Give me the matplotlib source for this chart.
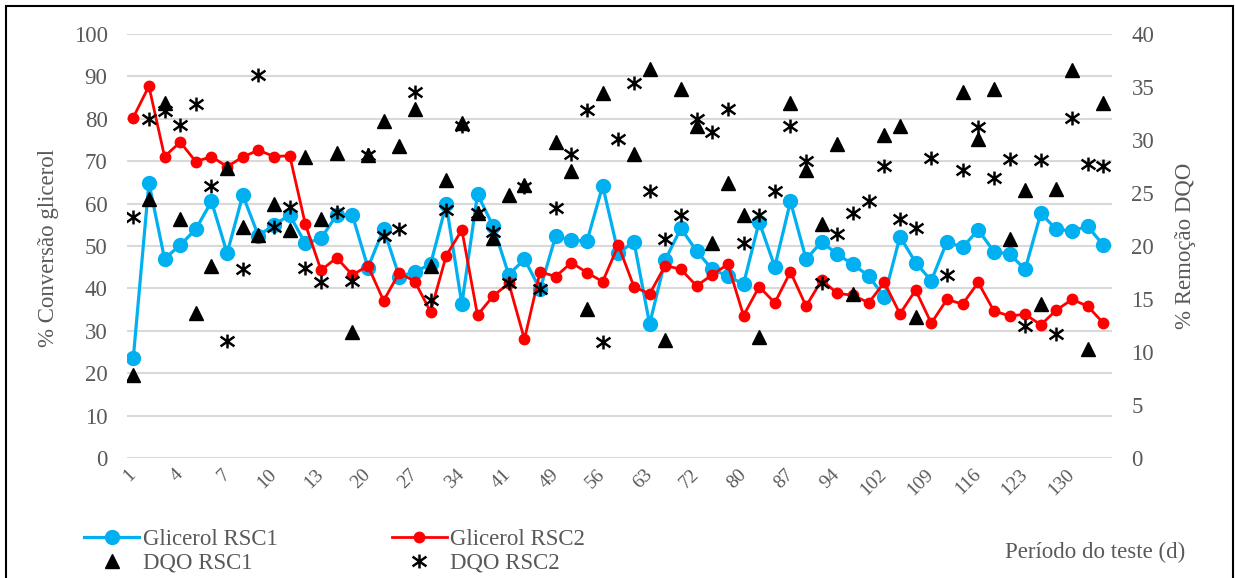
import numpy as np
import matplotlib
matplotlib.use("Agg")
import matplotlib.pyplot as plt
from matplotlib.path import Path
from matplotlib.patches import Rectangle

nan = np.nan

# Test period (days), one entry per sampling point
days = [1, 2, 3, 4, 5, 6, 7, 8, 9, 10, 11, 12, 13, 15, 18, 20, 22, 25, 27, 29, 32,
        34, 36, 39, 41, 43, 46, 49, 51, 53, 56, 58, 60, 63, 66, 69, 72, 74, 77, 80,
        82, 84, 87, 89, 92, 94, 97, 99, 102, 104, 106, 109, 111, 113, 116, 118, 120,
        123, 125, 127, 130, 132, 134]

# Glycerol conversion (%), left axis
glicerol_rsc1 = [23.5, 64.9, 47.0, 50.2, 54.0, 60.5, 48.3, 62.0, 52.4, 55.0, 57.3, 50.6, 51.8,
                 57.3, 57.3, 44.9, 54.0, 42.8, 43.9, 45.7, 59.8, 36.3, 62.2, 54.7, 43.2,
                 46.9, 39.8, 52.4, 51.3, 51.2, 64.2, 48.3, 51.0, 31.6, 46.7, 54.2, 48.8, 44.5,
                 42.9, 41.0, 55.7, 45.1, 60.5, 46.9, 51.0, 48.0, 45.7, 42.9, 38.0, 52.2,
                 46.1, 41.8, 51.0, 49.7, 53.8, 48.7, 48.1, 44.5, 57.7, 53.9, 53.6, 54.6, 50.2]
glicerol_rsc2 = [80.3, 87.7, 71.1, 74.5, 69.9, 71.1, 68.7, 71.0, 72.6, 71.1, 71.3, 55.1, 44.3,
                 47.2, 43.2, 45.3, 37.1, 43.7, 41.6, 34.5, 47.7, 53.8, 33.7, 38.2, 41.2,
                 28.0, 43.9, 42.8, 46.1, 43.7, 41.6, 50.2, 40.4, 38.7, 45.4, 44.5, 40.6, 43.2,
                 45.7, 33.6, 40.4, 36.6, 43.9, 35.8, 42.0, 38.8, 38.4, 36.6, 41.4, 34.0,
                 39.6, 31.8, 37.4, 36.3, 41.4, 34.7, 33.5, 33.9, 31.4, 34.9, 37.4, 35.8, 31.8]

# COD removal (%), right axis
dqo_rsc1 = [7.8, 24.4, 33.5, 22.5, 13.7, 18.1, 27.4, 21.8, 21.0, 24.0, 21.5, 28.4, 22.5,
            28.8, 11.9, 28.6, 31.8, 29.4, 32.9, 18.1, 26.2, 31.6, 23.1, 20.8, 24.8,
            25.8, nan, 29.8, 27.1, 14.1, 34.4, nan, 28.7, 36.7, 11.1, 34.8, 31.3, 20.3,
            25.9, 22.9, 11.4, nan, 33.5, 27.2, 22.1, 29.6, 15.5, nan, 30.5, 31.3,
            13.3, nan, nan, 34.5, 30.1, 34.8, 20.7, 25.3, 14.5, 25.4, 36.6, 10.3, 33.5]
dqo_rsc2 = [22.7, 32.0, 32.7, 31.4, 33.4, 25.7, 11.0, 17.8, 36.1, 21.8, 23.7, 17.9, 16.6,
            23.2, 16.7, 28.6, 20.9, 21.6, 34.5, 14.9, 23.4, 31.3, 23.1, 21.3, 16.5,
            25.6, 15.9, 23.6, 28.7, 32.8, 10.9, 30.1, 35.4, 25.2, 20.7, 22.9, 32.0, 30.8,
            32.9, 20.3, 22.9, 25.2, 31.3, 28.0, 16.5, 21.1, 23.1, 24.2, 27.5, 22.5,
            21.7, 28.3, 17.3, 27.2, 31.2, 26.4, 28.2, 12.5, 28.1, 11.7, 32.1, 27.7, 27.5]

BLUE = "#00B0F0"
RED = "#FF0000"
GRAY = "#595959"
GRID = "#D9D9D9"

plt.rcParams["font.family"] = ["Liberation Serif", "DejaVu Serif"]

# six-armed asterisk marker: vertical bar plus two diagonals
ast = Path([(0, -1), (0, 1), (-1, -0.7), (1, 0.7), (-1, 0.7), (1, -0.7)],
           [Path.MOVETO, Path.LINETO] * 3)

fig = plt.figure(figsize=(12.35, 5.78), dpi=100)
ax = fig.add_axes([127 / 1235, 1 - 458 / 578, (1112 - 127) / 1235, (458 - 34) / 578])
ax2 = ax.twinx()

x = np.arange(len(days))

l1, = ax.plot(x, glicerol_rsc1, color=BLUE, lw=2.3, marker="o", ms=10,
              markerfacecolor=BLUE, markeredgecolor=BLUE, zorder=3)
l2, = ax.plot(x, glicerol_rsc2, color=RED, lw=2.0, marker="o", ms=7.5,
              markerfacecolor=RED, markeredgecolor=RED, zorder=4)
l3, = ax2.plot(x, dqo_rsc1, ls="none", marker="^", ms=10.5, color="black", zorder=5)
l4, = ax2.plot(x, dqo_rsc2, ls="none", marker=ast, ms=10, markeredgewidth=1.8,
               color="black", markerfacecolor="none", zorder=6)

ax.set_xlim(-0.4, len(days) - 0.45)
ax.set_ylim(0, 100)
ax2.set_ylim(0, 40)
ax.set_yticks(np.arange(0, 101, 10))
ax2.set_yticks(np.arange(0, 41, 5))
ax.yaxis.grid(True, color=GRID, lw=1.5)
ax.set_axisbelow(True)

ax.set_xticks(x[::3])
ax.set_xticklabels([str(d) for d in days[::3]], rotation=45, ha="right",
                   rotation_mode="anchor", va="center")

for a in (ax, ax2):
    for s in a.spines.values():
        s.set_visible(False)
ax.tick_params(axis="y", length=0, pad=14, labelsize=16.5, labelcolor=GRAY)
ax2.tick_params(axis="y", length=0, pad=14, labelsize=16.5, labelcolor=GRAY)
ax.tick_params(axis="x", length=0, pad=10, labelsize=14, labelcolor=GRAY)

fig.text(49 / 1235, 1 - 248 / 578, "% Conversão glicerol", rotation=90,
         ha="center", va="center", fontsize=16.5, color=GRAY)
fig.text(1185 / 1235, 1 - 246 / 578, "% Remoção DQO", rotation=90,
         ha="center", va="center", fontsize=16.5, color=GRAY)
fig.text(1185 / 1235, 1 - 552 / 578, "Período do teste (d)",
         ha="right", va="center", fontsize=16.5, color=GRAY)

# legend laid out row-wise: glycerol series on top, COD series below
leg = fig.legend([l1, l3, l2, l4],
                 ["Glicerol RSC1", "DQO RSC1", "Glicerol RSC2", "DQO RSC2"],
                 ncol=2, loc="upper left", bbox_to_anchor=(75 / 1235, 1 - 520 / 578),
                 frameon=False, fontsize=16.5, handlelength=2.4, handletextpad=0.15,
                 columnspacing=5.0, labelspacing=0.1, borderaxespad=0)
for t in leg.get_texts():
    t.set_color(GRAY)

# outer frame around the chart area
fig.patches.append(Rectangle((6 / 1235, -0.01), 1227 / 1235, 1 - 6 / 578 + 0.01,
                             transform=fig.transFigure, fill=False,
                             edgecolor="black", lw=1.5))

fig.savefig("out.png", dpi=100)
